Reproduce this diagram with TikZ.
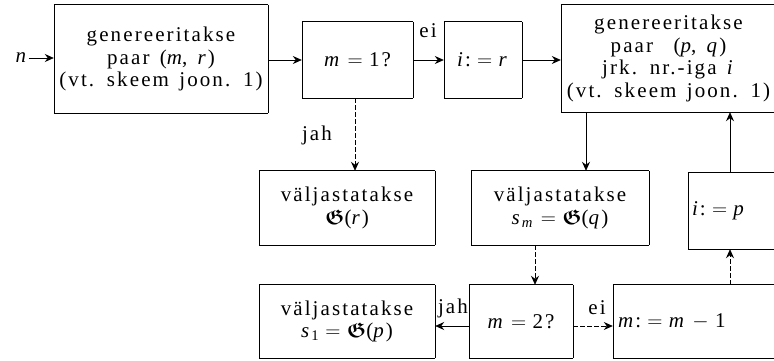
\RequirePackage{fix-cm}
\documentclass[tikz,border=0pt]{standalone}
\usepackage{amsmath,amssymb,bm}
\usepackage{fontspec}
\setmainfont{Liberation Serif}[LetterSpace=10,WordSpace=1.4]
\usetikzlibrary{arrows.meta}
\newcommand\V[1]{\textit{#1}}
\newcommand\Gf{$\bm{\mathfrak{G}}$}
\newcommand\Eq{\hspace{0.3em}$=$\hspace{0.3em}}
\newcommand\Mn{\hspace{0.3em}$-$\hspace{0.3em}}
\tikzset{
  box/.style={inner sep=0pt, align=center, font=\fontsize{21}{22.5}\selectfont},
  lbox/.style={box, align=left},
  hedge/.style={line width=1.1pt},
  vedge/.style={line width=0.6pt},
  arr/.style={line width=0.8pt, -{Stealth[length=9pt,width=8pt,inset=3pt]}},
  darr/.style={arr, dash pattern=on 5pt off 2pt},
  lbl/.style={font=\fontsize{21}{22}\selectfont, inner sep=0pt}
}
\newcommand\frameit[1]{%
  \draw[hedge] (#1.north west) -- (#1.north east);
  \draw[hedge] (#1.south west) -- (#1.south east);
  \draw[vedge] (#1.north west) -- (#1.south west);
  \draw[vedge] (#1.north east) -- (#1.south east);}
\begin{document}
\begin{tikzpicture}[x=1pt,y=-1pt]
\useasboundingbox (0,0) rectangle (774,361);
% nodes
\node[lbl] (n) at (22,58) {\V{n}};
\node[box, minimum width=214pt, minimum height=108pt] (b1) at (161,59)
  {genereeritakse\\paar (\V{m}, \V{r})\\(vt. skeem joon. 1)};
\node[box, minimum width=111pt, minimum height=76pt] (b2) at (357.5,60) {\V{m}\Eq 1?};
\node[box, minimum width=78pt, minimum height=76pt] (b3) at (483,60) {\V{i}:\Eq\V{r}};
\node[box, minimum width=215pt, minimum height=107pt] (b4) at (668.5,58.5)
  {genereeritakse\\paar\ \ (\V{p}, \V{q})\\jrk. nr.-iga\ \V{i}\\(vt. skeem joon. 1)};
\node[box, minimum width=176pt, minimum height=74pt] (b5) at (347,208)
  {väljastatakse\\\Gf(\V{r})};
\node[box, minimum width=178pt, minimum height=74pt] (b6) at (560,208)
  {väljastatakse\\\V{s}\textsubscript{\V{m}}\Eq\Gf(\V{q})};
\node[lbox, minimum width=92pt, minimum height=76pt, text width=84pt, inner xsep=4pt] (b7) at (734,211)
  {\V{i}:\Eq\V{p}};
\node[box, minimum width=176pt, minimum height=73pt] (b8) at (347,321.5)
  {väljastatakse\\\V{s}\textsubscript{1}\Eq\Gf(\V{p})};
\node[box, minimum width=104pt, minimum height=73pt] (b9) at (521,321.5) {\V{m}\Eq 2?};
\node[lbox, minimum width=165pt, minimum height=73pt, text width=155pt, inner xsep=5pt] (b10) at (695.5,321.5)
  {\V{m}:\Eq\V{m}\Mn 1};
% frames
\foreach \b in {b1,b2,b3,b4,b5,b6,b7,b8,b9,b10} {\frameit{\b}}
% labels
\node[lbl] (ei1) at (428,31) {ei};
\node[lbl] (jah1) at (317,135) {jah};
\node[lbl] (jah2) at (453,308) {jah};
\node[lbl] (ei2) at (597,308) {ei};
% helper coordinates
\coordinate (a1) at (355,0);
\coordinate (a2) at (586,0);
\coordinate (a3) at (535,0);
\coordinate (a4) at (730,0);
\coordinate (ay) at (0,326);
% connectors
\draw[arr] (n.east) -- (b1.west |- n.east);
\draw[arr] (b1.east |- b2.west) -- (b2.west);
\draw[arr] (b2.east) -- (b3.west);
\draw[arr] (b3.east) -- (b4.west |- b3.east);
\draw[darr] (b2.south -| a1) -- (b5.north -| a1);
\draw[arr] (b4.south -| a2) -- (b6.north -| a2);
\draw[darr] (b6.south -| a3) -- (b9.north -| a3);
\draw[arr] (b9.west |- ay) -- (b8.east |- ay);
\draw[darr] (b9.east |- ay) -- (b10.west |- ay);
\draw[darr] (b10.north -| a4) -- (b7.south -| a4);
\draw[arr] (b7.north -| a4) -- (b4.south -| a4);
\end{tikzpicture}
\end{document}
